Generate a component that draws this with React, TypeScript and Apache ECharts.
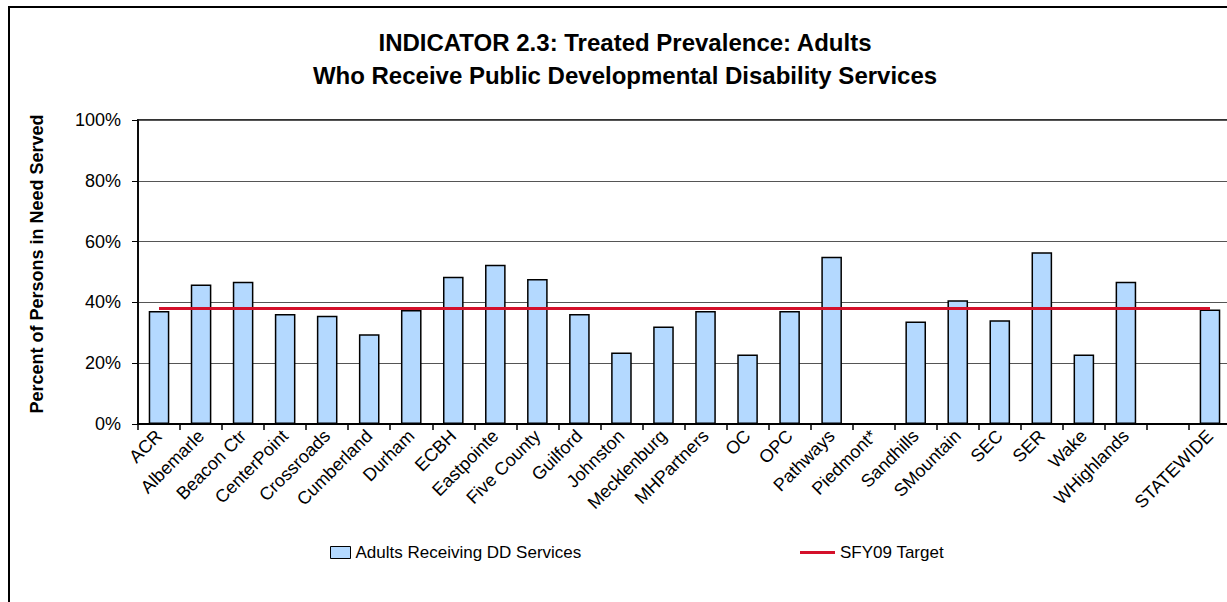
import React, { useEffect, useRef } from "react";
import * as echarts from "echarts";

const categories = [
  "ACR", "Albemarle", "Beacon Ctr", "CenterPoint", "Crossroads", "Cumberland",
  "Durham", "ECBH", "Eastpointe", "Five County", "Guilford", "Johnston",
  "Mecklenburg", "MHPartners", "OC", "OPC", "Pathways", "Piedmont*",
  "Sandhills", "SMountain", "SEC", "SER", "Wake", "WHighlands", "", "STATEWIDE",
];

const adultsValues: (number | null)[] = [
  37.2, 45.9, 46.8, 36.2, 35.6, 29.5,
  37.5, 48.4, 52.4, 47.7, 36.2, 23.5,
  32.1, 37.2, 22.9, 37.2, 55.0, null,
  33.7, 40.7, 34.1, 56.5, 22.9, 46.8, null, 37.7,
];

const targetValues = [
  38, 38, 38, 38, 38, 38,
  38, 38, 38, 38, 38, 38,
  38, 38, 38, 38, 38, 38,
  38, 38, 38, 38, 38, 38, 38, 38,
];

const yTicks = [0, 20, 40, 60, 80, 100];

const titleLine1 = "INDICATOR 2.3: Treated Prevalence: Adults";
const titleLine2 = "Who Receive Public Developmental Disability Services";
const yAxisName = "Percent of Persons in Need Served";
const barName = "Adults Receiving DD Services";
const lineName = "SFY09 Target";

const FONT = "'Liberation Sans', Arial, Helvetica, sans-serif";

export default function App() {
  const ref = useRef<HTMLDivElement>(null);

  useEffect(() => {
    if (!ref.current) return;
    const chart = echarts.init(ref.current, undefined, { renderer: "svg" });
    chart.setOption({
      animation: false,
      backgroundColor: "#fff",
      textStyle: { fontFamily: FONT },
      graphic: [
        {
          type: "text",
          x: 615,
          y: 34,
          style: {
            text: titleLine1,
            textAlign: "center",
            textVerticalAlign: "middle",
            font: `bold 24px ${FONT}`,
            fill: "#000",
          },
        },
        {
          type: "text",
          x: 615,
          y: 67,
          style: {
            text: titleLine2,
            textAlign: "center",
            textVerticalAlign: "middle",
            font: `bold 24px ${FONT}`,
            fill: "#000",
          },
        },
        {
          type: "text",
          x: 27,
          y: 256,
          rotation: Math.PI / 2,
          style: {
            text: yAxisName,
            textAlign: "center",
            textVerticalAlign: "middle",
            font: `bold 18px ${FONT}`,
            fill: "#000",
          },
        },
      ],
      grid: {
        left: 128,
        top: 112,
        width: 1093,
        height: 304,
        show: true,
        borderColor: "#333",
        borderWidth: 2,
        backgroundColor: "transparent",
      },
      legend: [
        {
          data: [barName],
          left: 320,
          top: 536,
          padding: 0,
          itemWidth: 20,
          itemHeight: 12,
          itemGap: 7,
          icon: "rect",
          itemStyle: { color: "#B4D9FF", borderColor: "#000", borderWidth: 1 },
          textStyle: { fontSize: 17, color: "#000", fontFamily: FONT },
        },
        {
          data: [{ name: lineName, icon: "rect" }],
          left: 790,
          top: 536,
          padding: 0,
          itemWidth: 35,
          itemHeight: 3,
          itemStyle: { color: "#D4102A", borderWidth: 0 },
          textStyle: { fontSize: 17, color: "#000", fontFamily: FONT },
        },
      ],
      xAxis: {
        type: "category",
        data: categories,
        boundaryGap: true,
        axisLine: { show: true, lineStyle: { color: "#000", width: 2 } },
        axisTick: { show: true, length: 6, lineStyle: { color: "#000", width: 1.5 } },
        axisLabel: {
          interval: 0,
          rotate: 45,
          margin: 9,
          fontSize: 18,
          color: "#000",
          fontFamily: FONT,
        },
        splitLine: { show: false },
      },
      yAxis: {
        type: "value",
        min: yTicks[0],
        max: yTicks[yTicks.length - 1],
        interval: 20,
        axisLine: { show: true, lineStyle: { color: "#000", width: 1.5 } },
        axisTick: { show: true, length: 6, lineStyle: { color: "#000", width: 1 } },
        axisLabel: {
          formatter: "{value}%",
          margin: 17,
          fontSize: 18,
          color: "#000",
          fontFamily: FONT,
        },
        splitLine: { show: true, lineStyle: { color: "#555", width: 1 } },
      },
      series: [
        {
          name: barName,
          type: "bar",
          data: adultsValues,
          barWidth: "49%",
          itemStyle: { color: "#B4D9FF", borderColor: "#000", borderWidth: 1.5 },
        },
        {
          name: lineName,
          type: "line",
          data: targetValues,
          symbol: "none",
          color: "#D4102A",
          lineStyle: { color: "#D4102A", width: 3 },
          z: 3,
        },
      ],
    });
    return () => chart.dispose();
  }, []);

  return (
    <div style={{ position: "fixed", left: 0, top: 0, width: 1227, height: 602, overflow: "hidden", background: "#fff" }}>
      <div
        style={{
          position: "absolute",
          left: 8,
          top: 6,
          width: 1300,
          height: 700,
          borderLeft: "2px solid #000",
          borderTop: "2px solid #000",
        }}
      >
        <div ref={ref} style={{ position: "absolute", left: 0, top: 0, width: 1290, height: 690 }} />
      </div>
    </div>
  );
}
